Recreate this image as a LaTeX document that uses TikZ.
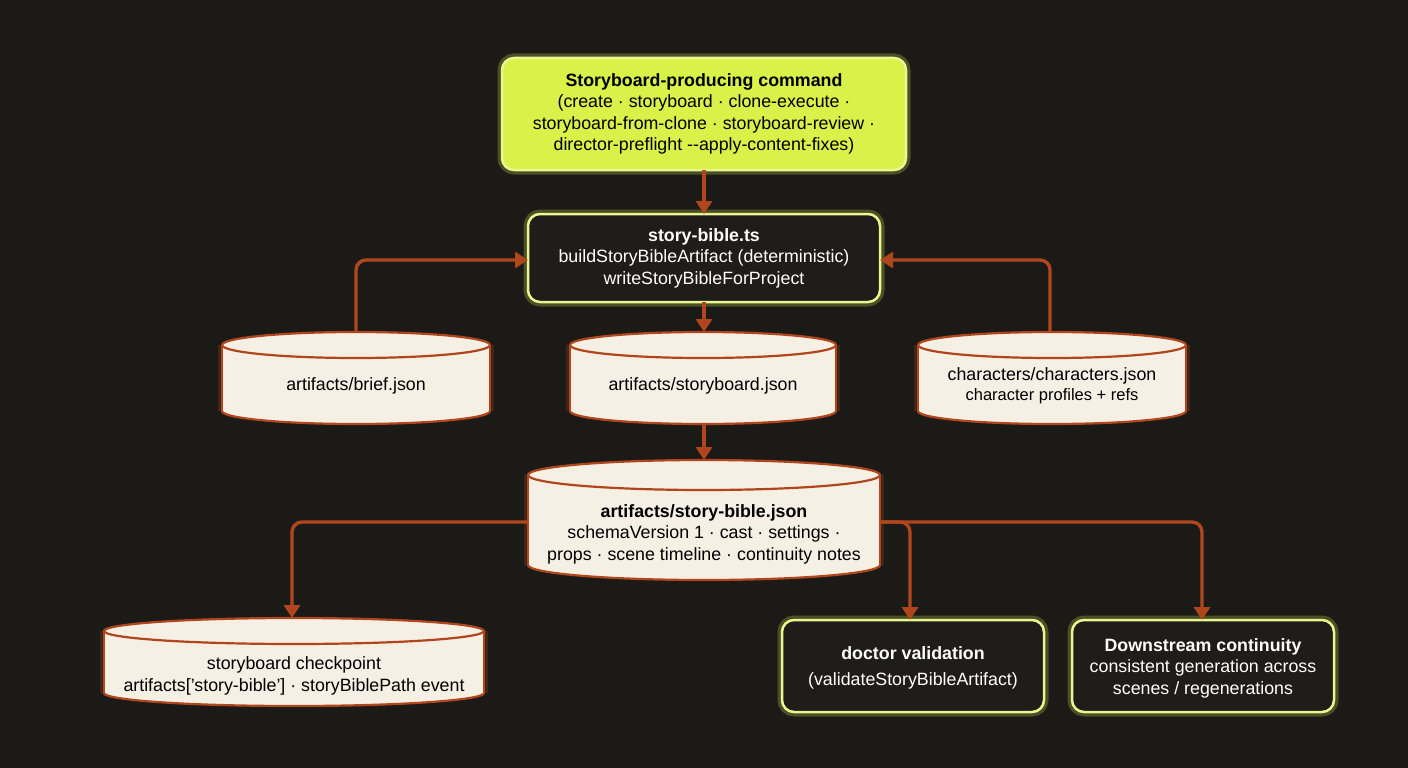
\documentclass[tikz,border=0pt]{standalone}
\usepackage{fontspec}
\setmainfont{Liberation Sans}
\usetikzlibrary{arrows.meta}
\definecolor{bg}{HTML}{1B1A17}
\definecolor{lime}{HTML}{D8F24A}
\definecolor{cream}{HTML}{F6EFE4}
\definecolor{rust}{HTML}{B0461E}
\definecolor{dk}{HTML}{1E1D19}
\tikzset{
 x=1pt,y=-1pt,
 txt/.style={align=center,font=\fontsize{17.8}{21.5}\selectfont,text=#1},
 txt/.default=black,
 conn/.style={draw=rust,line width=3.4pt,rounded corners=10pt,-{Triangle[length=13pt,width=16pt]}},
 greenbox/.style={draw=lime!60!white,line width=2.5pt,rounded corners=12pt,preaction={draw=lime,line width=9pt,opacity=0.25}},
 cylst/.style={draw=rust,line width=2.2pt,fill=cream}
}
\newcommand\drawcyl[5]{%
 \fill[rust,opacity=0.25] (#1-4,#2+#5) rectangle (#3+4,#4-#5);
 \draw[cylst] ({(#1+#3)/2},#4-#5) ellipse [x radius={(#3-#1)/2},y radius=#5];
 \fill[cream] (#1,#2+#5) rectangle (#3,#4-#5);
 \draw[rust,line width=2.2pt] (#1,#2+#5) -- (#1,#4-#5) (#3,#2+#5) -- (#3,#4-#5);
 \draw[cylst] ({(#1+#3)/2},#2+#5) ellipse [x radius={(#3-#1)/2},y radius=#5];
}
\begin{document}
\begin{tikzpicture}
\fill[bg] (0,0) rectangle (1408,768);
\useasboundingbox (0,0) rectangle (1408,768);
% top command
\path[greenbox,fill=lime] (502,58) rectangle (906,170);
\node[txt] (cmd) at (704,114) {\textbf{Storyboard-producing command}\\(create · storyboard · clone-execute ·\\storyboard-from-clone · storyboard-review ·\\director-preflight {-}{-}apply-content-fixes)};
\coordinate (cmdS) at (704,170);
% story-bible.ts
\path[greenbox,fill=dk] (528,214) rectangle (880,302);
\node[txt=white] (ts) at (704,258) {\textbf{story-bible.ts}\\buildStoryBibleArtifact (deterministic)\\writeStoryBibleForProject};
\coordinate (tsN) at (704,214); \coordinate (tsS) at (704,302);
\coordinate (tsW) at (528,260); \coordinate (tsE) at (880,260);
% cylinders
\drawcyl{222}{332}{490}{424}{13}
\node[txt] (brief) at (356,386) {artifacts/brief.json};
\coordinate (briefN) at (356,332);
\drawcyl{570}{332}{836}{424}{13}
\node[txt] (sb) at (703,386) {artifacts/storyboard.json};
\coordinate (sbN) at (704,332); \coordinate (sbS) at (704,424);
\drawcyl{918}{332}{1186}{424}{13}
\node[txt] (chars) at (1052,386) {characters/characters.json\\[-2pt]{\fontsize{16.5}{19}\selectfont character profiles + refs}};
\coordinate (charsN) at (1050,332);
\drawcyl{528}{460}{880}{580}{15}
\node[txt] (json) at (704,534) {\textbf{artifacts/story-bible.json}\\schemaVersion 1 · cast · settings ·\\props · scene timeline · continuity notes};
\coordinate (jsonN) at (704,460); \coordinate (jsonW) at (528,522); \coordinate (jsonE) at (880,522);
\drawcyl{104}{618}{484}{706}{13}
\node[txt] (ckpt) at (294,676) {storyboard checkpoint\\artifacts['story-bible'] · storyBiblePath event};
\coordinate (ckptN) at (292,618);
% bottom boxes
\path[greenbox,fill=dk] (782,620) rectangle (1044,712);
\node[txt=white] (doc) at (913,668) {\textbf{doctor validation}\\[4pt](validateStoryBibleArtifact)};
\coordinate (docN) at (910,620);
\path[greenbox,fill=dk] (1072,620) rectangle (1334,712);
\node[txt=white] (down) at (1203,668) {\textbf{Downstream continuity}\\consistent generation across\\scenes / regenerations};
\coordinate (downN) at (1202,620);
% connectors
\draw[conn] (cmdS) -- (tsN);
\draw[conn] (briefN) |- (tsW);
\draw[conn] (charsN) |- (tsE);
\draw[conn] (tsS) -- (sbN);
\draw[conn] (sbS) -- (jsonN);
\draw[conn] (jsonW) -| (ckptN);
\draw[conn] (jsonE) -| (docN);
\draw[conn] (jsonE) -| (downN);
\end{tikzpicture}
\end{document}
